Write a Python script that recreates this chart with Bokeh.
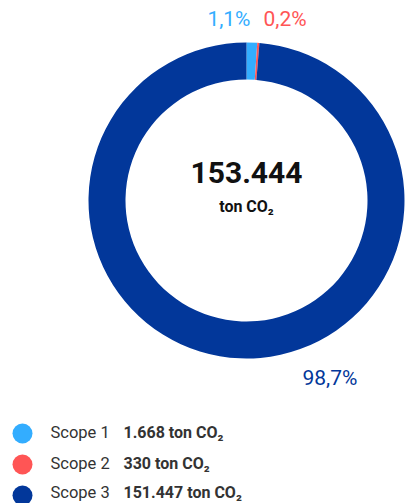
import math
from bokeh.plotting import figure
from bokeh.models import Range1d, ColumnDataSource
from bokeh.core.properties import value
from bokeh.embed import file_html
from bokeh.resources import INLINE

# ---- data ----
scopes = ["Scope 1", "Scope 2", "Scope 3"]
emissions = [1668, 330, 151447]
amount_labels = ["1.668 ton CO\u2082", "330 ton CO\u2082", "151.447 ton CO\u2082"]
pct_labels = ["1,1%", "0,2%", "98,7%"]
colors = ["#33adff", "#ff5555", "#02379a"]
total_label = "153.444"
unit_label = "ton CO\u2082"

W, H = 405, 503
p = figure(width=W, height=H, output_backend="svg", toolbar_location=None,
           x_range=Range1d(0, W), y_range=Range1d(0, H), min_border=0,
           outline_line_color=None, background_fill_color="white")
p.axis.visible = False
p.grid.visible = False

def Y(page_y):
    return H - page_y

def X(page_x):
    return page_x

cx, cy = X(246), Y(200)
r_out, r_in = 158, 121

total = sum(emissions)
starts, ends = [], []
a = math.pi / 2
for v in emissions:
    starts.append(a)
    a -= 2 * math.pi * v / total
    ends.append(a)

src = ColumnDataSource(dict(start=starts, end=ends, color=colors))
p.annular_wedge(x=cx, y=cy, inner_radius=r_in, outer_radius=r_out,
                start_angle="start", end_angle="end", direction="clock",
                fill_color="color", line_color=None, source=src)

# percentage labels
pct_x = [X(250), X(263), X(302)]
pct_y = [Y(18.5), Y(18.5), Y(377.5)]
pct_align = ["right", "left", "left"]
p.text(x=pct_x, y=pct_y, text=pct_labels, text_align=pct_align,
       text_baseline="middle", text_color=colors, text_font=value("Roboto"),
       text_font_size="21px")

# center labels
p.text(x=[cx], y=[Y(172)], text=[total_label], text_align="center",
       text_baseline="middle", text_color="#111111", text_font=value("Roboto"),
       text_font_style="bold", text_font_size="30px")
p.text(x=[cx], y=[Y(206)], text=[unit_label], text_align="center",
       text_baseline="middle", text_color="#111111", text_font=value("Roboto"),
       text_font_style="bold", text_font_size="16px")

# legend
dot_y = [Y(433), Y(464), Y(495)]
txt_y = [Y(432), Y(462.5), Y(492)]
p.scatter(x=[X(22)] * 3, y=dot_y, size=20, marker="circle",
          fill_color=colors, line_color=None)
p.text(x=[X(50)] * 3, y=txt_y, text=scopes, text_align="left",
       text_baseline="middle", text_color="#333333", text_font=value("Roboto"),
       text_font_size="16.5px")
p.text(x=[X(123)] * 3, y=txt_y, text=amount_labels, text_align="left",
       text_baseline="middle", text_color="#333333", text_font=value("Roboto"),
       text_font_style="bold", text_font_size="16px")

open("out.html", "w").write(file_html(p, INLINE))
